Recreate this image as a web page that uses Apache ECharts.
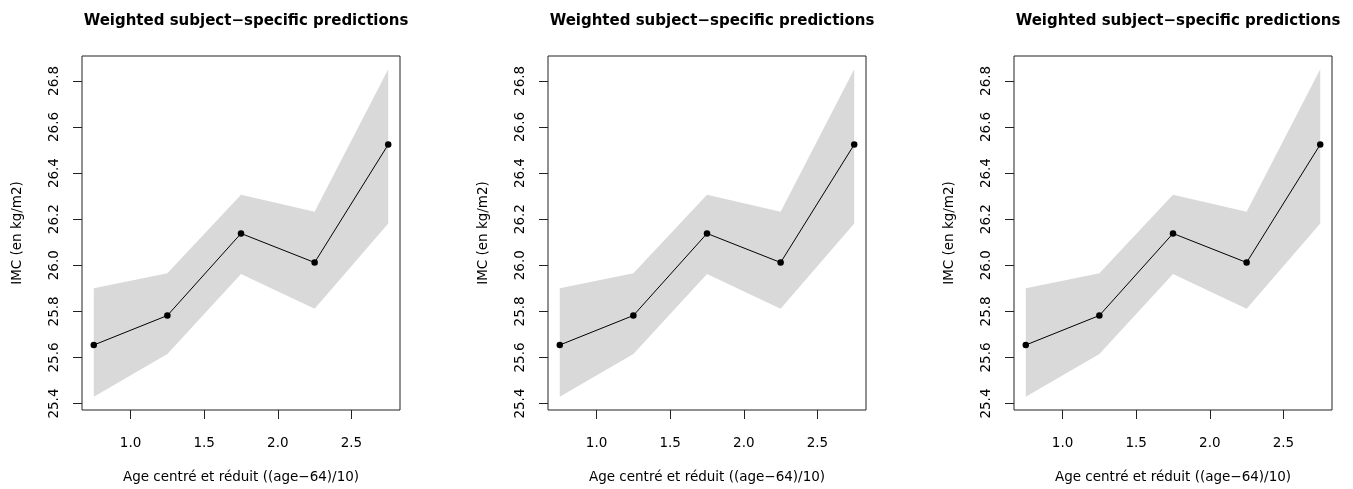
<!DOCTYPE html>
<html><head><meta charset="utf-8">
<script src="https://cdn.jsdelivr.net/npm/echarts@6/dist/echarts.min.js"></script>
<style>html,body{margin:0;padding:0;background:#fff}#c{width:1353px;height:489px}</style>
</head><body><div id="c"></div>
<script>
const ageX = [0.75, 1.25, 1.75, 2.25, 2.75];
const imcPred = [25.654, 25.782, 26.138, 26.012, 26.524];
const imcUpper = [25.900, 25.965, 26.306, 26.232, 26.850];
const imcLower = [25.429, 25.615, 25.962, 25.811, 26.181];
const xTicks = [1.0, 1.5, 2.0, 2.5];
const yTicks = [25.4, 25.6, 25.8, 26.0, 26.2, 26.4, 26.6, 26.8];
const titleText = 'Weighted subject\u2212specific predictions';
const xName = 'Age centré et réduit ((age\u221264)/10)';
const yName = 'IMC (en kg/m2)';

const chart = echarts.init(document.getElementById('c'), null, {renderer: 'canvas'});
const lefts = [82, 548, 1014];
const W = 318, H = 356, TOP = 56;
const font = '"DejaVu Sans", "Liberation Sans", Arial, sans-serif';
const grids = [], xAxes = [], yAxes = [], series = [], titles = [];
lefts.forEach((l, i) => {
  grids.push({left: l, top: TOP, width: W, height: H, show: true, borderColor: '#222', borderWidth: 1, backgroundColor: 'transparent'});
  titles.push({text: titleText, left: l + W / 2, top: 9, textAlign: 'center',
    textStyle: {fontFamily: font, fontSize: 15, fontWeight: 'bold', color: '#000'}});
  xAxes.push({type: 'value', gridIndex: i, min: 0.67, max: 2.83,
    name: xName, nameLocation: 'middle', nameGap: 60,
    nameTextStyle: {fontFamily: font, fontSize: 13.5, color: '#000'},
    axisLine: {show: false},
    axisTick: {show: true, inside: false, length: 9, lineStyle: {color: '#222'}, customValues: xTicks},
    axisLabel: {show: true, margin: 26, fontFamily: font, fontSize: 13.5, color: '#000', customValues: xTicks,
      formatter: v => Number(v).toFixed(1)},
    splitLine: {show: false}});
  yAxes.push({type: 'value', gridIndex: i, min: 25.372, max: 26.908,
    name: yName, nameLocation: 'middle', nameGap: 58, nameRotate: 90,
    nameTextStyle: {fontFamily: font, fontSize: 13.5, color: '#000'},
    axisLine: {show: false},
    axisTick: {show: true, inside: false, length: 9, lineStyle: {color: '#222'}, customValues: yTicks},
    axisLabel: {show: true, margin: 21, rotate: 90, fontFamily: font, fontSize: 13.5, color: '#000', customValues: yTicks,
      formatter: v => Number(v).toFixed(1)},
    splitLine: {show: false}});
  series.push({type: 'custom', xAxisIndex: i, yAxisIndex: i, data: [0], silent: true, z: 1,
    renderItem: (params, api) => {
      const pts = [];
      ageX.forEach((x, k) => pts.push(api.coord([x, imcUpper[k]])));
      for (let k = ageX.length - 1; k >= 0; k--) pts.push(api.coord([ageX[k], imcLower[k]]));
      return {type: 'polygon', shape: {points: pts}, style: {fill: '#d9d9d9', stroke: null}};
    }});
  series.push({type: 'line', xAxisIndex: i, yAxisIndex: i, z: 3,
    data: ageX.map((x, k) => [x, imcPred[k]]),
    symbol: 'circle', symbolSize: 6.5, showSymbol: true,
    itemStyle: {color: '#000'}, lineStyle: {color: '#000', width: 1}, silent: true});
});
chart.setOption({animation: false, backgroundColor: '#fff', title: titles, grid: grids, xAxis: xAxes, yAxis: yAxes, series: series});
</script></body></html>
